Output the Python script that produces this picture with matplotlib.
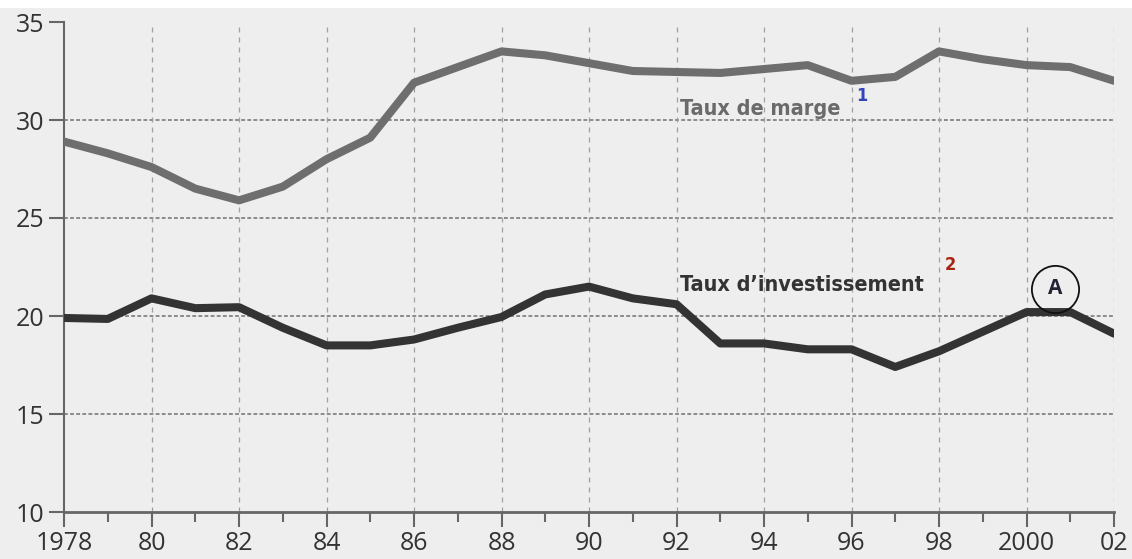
import matplotlib
matplotlib.use("Agg")
import matplotlib.pyplot as plt
from matplotlib.patches import Rectangle

years = list(range(1978, 2003))
taux_marge = [28.9, 28.3, 27.6, 26.5, 25.9, 26.6, 28.0, 29.1, 31.9, 32.7, 33.5, 33.3,
              32.9, 32.5, 32.45, 32.4, 32.6, 32.8, 32.0, 32.2, 33.5, 33.1, 32.8, 32.7, 32.0]
taux_invest = [19.9, 19.85, 20.9, 20.4, 20.45, 19.4, 18.5, 18.5, 18.8, 19.4, 19.95, 21.1,
               21.5, 20.9, 20.6, 18.6, 18.6, 18.3, 18.3, 17.4, 18.2, 19.2, 20.2, 20.2, 19.1]
y_ticks = [10, 15, 20, 25, 30, 35]
x_major = list(range(1978, 2003, 2))
x_labels = ["1978", "80", "82", "84", "86", "88", "90", "92", "94", "96", "98", "2000", "02"]

W, H = 1132, 559
fig = plt.figure(figsize=(W / 100, H / 100), dpi=100, facecolor="#eeeeee")
fig.patches.append(Rectangle((0, 1 - 8 / H), 1, 8 / H, transform=fig.transFigure,
                             facecolor="white", edgecolor="none", zorder=0))
ax = fig.add_axes([64 / W, (H - 512) / H, (1114 - 64) / W, (512 - 22) / H])
ax.set_facecolor("#eeeeee")
ax.set_xlim(1978, 2002)
ax.set_ylim(10, 35)

font = "DejaVu Sans"

# grid
for yv in [15, 20, 25, 30]:
    ax.axhline(yv, color="#707070", lw=1.1, ls=(0, (2.5, 1.5)), zorder=1)
for xv in x_major[1:-1]:
    ax.axvline(xv, color="#a0a0a0", lw=0.9, ls=(0, (4, 4)), zorder=1)
ax.axvline(2002, color="#a0a0a0", lw=0.9, ls=(0, (4, 4)), zorder=1)

ax.plot(years, taux_marge, color="#6e6e6e", lw=5.8, solid_joinstyle="round",
        solid_capstyle="round", zorder=3)
ax.plot(years, taux_invest, color="#333333", lw=5.8, solid_joinstyle="round",
        solid_capstyle="round", zorder=3)

for s in ["top", "right"]:
    ax.spines[s].set_visible(False)
ax.spines["left"].set_color("#666666")
ax.spines["left"].set_linewidth(1.5)
ax.spines["bottom"].set_color("#666666")
ax.spines["bottom"].set_linewidth(2.0)

ax.set_yticks(y_ticks)
ax.set_yticklabels([str(v) for v in y_ticks])
ax.set_xticks(x_major)
ax.set_xticklabels(x_labels)
ax.set_xticks(range(1979, 2002, 2), minor=True)
ax.tick_params(axis="y", direction="out", length=11, width=1.5, color="#666666",
               labelsize=18, labelcolor="#333333", pad=3)
ax.tick_params(axis="x", which="major", direction="out", length=11, width=1.5,
               color="#666666", labelsize=18, labelcolor="#333333", pad=3)
ax.tick_params(axis="x", which="minor", direction="out", length=7, width=1.5,
               color="#666666")
for lab in ax.get_xticklabels() + ax.get_yticklabels():
    lab.set_family(["Open Sans", "DejaVu Sans"])

# labels
ax.text(1992.08, 30.56, "Taux de marge", family=font, fontweight="bold",
        fontstretch="condensed", fontsize=15.5, color="#6a6a6a",
        ha="left", va="center", zorder=4)
ax.text(1996.1, 31.2, "1", family=font, fontweight="bold", fontstretch="condensed",
        fontsize=13, color="#3344bb", ha="left", va="center", zorder=4)
ax.text(1992.08, 21.58, "Taux d\u2019investissement", family=font, fontweight="bold",
        fontstretch="condensed", fontsize=15.5, color="#333333",
        ha="left", va="center", zorder=4)
ax.text(1998.14, 22.6, "2", family=font, fontweight="bold", fontstretch="condensed",
        fontsize=13, color="#aa2211", ha="left", va="center", zorder=4)

# circle A
ax.plot([2000.65], [21.4], marker="o", markersize=34, markerfacecolor="none",
        markeredgecolor="#111111", markeredgewidth=1.3, zorder=5)
ax.text(2000.65, 21.4, "A", family=["Open Sans", "DejaVu Sans"], fontweight="bold",
        fontsize=15, color="#222233", ha="center", va="center", zorder=6)

fig.savefig("out.png", dpi=100, facecolor=fig.get_facecolor())
